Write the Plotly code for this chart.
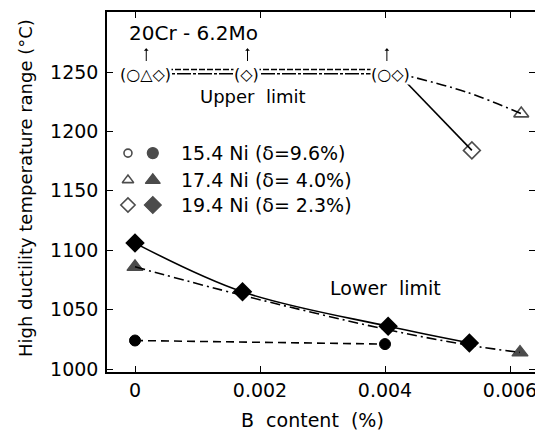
import plotly.graph_objects as go

# ---- data ----
# lower limit of the high-ductility range
ni154_lo_x = [0.0, 0.0040]
ni154_lo_y = [1024, 1021]
ni174_lo_x = [0.0, 0.00172, 0.00405, 0.00535, 0.00616]
ni174_lo_y = [1086, 1062, 1033, 1020, 1014]
ni194_lo_x = [0.0, 0.00172, 0.00405, 0.00535]
ni194_lo_y = [1106, 1065, 1036, 1022]

# upper limit (points in parentheses are beyond 1250)
up_dash_x = [0.0, 0.0042]
up_dash_y = [1252, 1252]
up_solid_x = [0.0, 0.0042]
up_solid_y = [1248.5, 1248.5]
ni174_up_x = [0.0042, 0.00531, 0.00618]
ni174_up_y = [1249, 1233, 1215]
ni194_up_x = [0.0042, 0.00539]
ni194_up_y = [1249, 1184]

group_labels = ["(○△◇)", "(◇)", "(○◇)"]
group_x = [0.00016, 0.00179, 0.00408]
group_y = [1248, 1248, 1248]
arrow_x = [0.00018, 0.0018, 0.00403]

legend_labels = ["15.4 Ni (δ=9.6%)", "17.4 Ni (δ= 4.0%)", "19.4 Ni (δ= 2.3%)"]
legend_open = ["circle-open", "triangle-up-open", "diamond-open"]
legend_filled = ["circle", "triangle-up", "diamond"]

xticks = [0, 0.002, 0.004, 0.006]
xticklabels = ["0", "0.002", "0.004", "0.006"]
yticks = [1000, 1050, 1100, 1150, 1200, 1250]

FONT = "DejaVu Sans"
BLACK = "black"

# page body has an 8px margin: figure is drawn from (8, 8) in the window
OFF = 8
W, H = 543 - OFF, 433 - OFF
L, T = 107 - OFF, 12 - OFF
R = W - (535 - OFF)
B = H - (372 - OFF)
pw, ph = W - L - R, H - T - B

fig = go.Figure()

dashdot = "10px,4px,2px,4px"

# upper horizontal double lines
fig.add_trace(go.Scatter(x=up_dash_x, y=up_dash_y, mode="lines",
                         line=dict(color=BLACK, width=1.5, dash="6px,2px")))
fig.add_trace(go.Scatter(x=up_solid_x, y=up_solid_y, mode="lines",
                         line=dict(color=BLACK, width=1.5, dash="14px,2px,3px,2px")))
# upper curves
fig.add_trace(go.Scatter(x=ni174_up_x, y=ni174_up_y, mode="lines+markers",
                         line=dict(color=BLACK, width=1.6, dash=dashdot, shape="spline"),
                         marker=dict(symbol="triangle-up-open", size=[0, 0, 13],
                                     color=BLACK, line=dict(width=1.6, color=BLACK))))
fig.add_trace(go.Scatter(x=ni194_up_x, y=ni194_up_y, mode="lines+markers",
                         line=dict(color=BLACK, width=1.6),
                         marker=dict(symbol="diamond-open", size=[0, 13],
                                     color=BLACK, line=dict(width=1.6, color=BLACK))))
# lower limits
fig.add_trace(go.Scatter(x=ni154_lo_x, y=ni154_lo_y, mode="lines+markers",
                         line=dict(color=BLACK, width=1.6, dash="8px,5px"),
                         marker=dict(symbol="circle", size=11, color=BLACK,
                                     line=dict(width=1, color=BLACK))))
fig.add_trace(go.Scatter(x=ni174_lo_x, y=ni174_lo_y, mode="lines+markers",
                         line=dict(color=BLACK, width=1.6, dash=dashdot, shape="spline"),
                         marker=dict(symbol="triangle-up", size=[14, 0, 0, 0, 14], color=BLACK,
                                     line=dict(width=1.2, color=BLACK))))
fig.add_trace(go.Scatter(x=ni194_lo_x, y=ni194_lo_y, mode="lines+markers",
                         line=dict(color=BLACK, width=1.6, shape="spline"),
                         marker=dict(symbol="diamond", size=15, color=BLACK)))

# legend keys on an overlay axis (0..1 over the plot area)
leg_y = [0.608, 0.533, 0.464]
fig.add_trace(go.Scatter(x=[0.049] * 3, y=leg_y, mode="markers", xaxis="x2", yaxis="y2",
                         marker=dict(symbol=legend_open, size=[8, 10, 11], color=BLACK,
                                     line=dict(width=1.6, color=BLACK))))
fig.add_trace(go.Scatter(x=[0.107] * 3, y=leg_y, mode="markers", xaxis="x2", yaxis="y2",
                         marker=dict(symbol=legend_filled, size=[11, 13, 13], color=BLACK,
                                     line=dict(width=1.2, color=BLACK))))

annotations = []
for lab, yy in zip(legend_labels, leg_y):
    annotations.append(dict(x=0.168, y=yy, xref="x2", yref="y2", text=lab, showarrow=False,
                            xanchor="left", yanchor="middle",
                            font=dict(family=FONT, size=19, color=BLACK)))
for lab, xx, yy in zip(group_labels, group_x, group_y):
    annotations.append(dict(x=xx, y=yy, xref="x", yref="y", text=lab, showarrow=False,
                            xanchor="center", yanchor="middle", bgcolor="white", borderpad=0,
                            font=dict(family=FONT, size=16, color=BLACK)))
for xx in arrow_x:
    annotations.append(dict(x=xx, y=1270, xref="x", yref="y", ax=xx, ay=1258,
                            axref="x", ayref="y", text="", showarrow=True,
                            arrowhead=1, arrowsize=0.8, arrowwidth=1, arrowcolor=BLACK))
annotations += [
    dict(x=0.00094, y=1283, xref="x", yref="y", text="20Cr - 6.2Mo", showarrow=False,
         font=dict(family=FONT, size=20, color=BLACK)),
    dict(x=0.00189, y=1229, xref="x", yref="y", text="Upper  limit", showarrow=False,
         font=dict(family=FONT, size=18, color=BLACK)),
    dict(x=0.0040, y=1068, xref="x", yref="y", text="Lower  limit", showarrow=False,
         font=dict(family=FONT, size=19, color=BLACK)),
]
# axis titles, placed by window pixel position
for text, px, py, ang, size in [
        ("High ductility temperature range (°C)", 25, 188, -90, 18),
        ("B  content  (%)", 312, 420, 0, 19)]:
    annotations.append(dict(x=(px - OFF - L) / pw, y=(H - B - (py - OFF)) / ph,
                            xref="paper", yref="paper", text=text, showarrow=False,
                            textangle=ang, xanchor="center", yanchor="middle",
                            font=dict(family=FONT, size=size, color=BLACK)))

axis_common = dict(showline=True, linecolor=BLACK, linewidth=1.5, mirror="allticks",
                   ticks="inside", ticklen=6, tickwidth=1.2, tickcolor=BLACK,
                   showgrid=False, zeroline=False,
                   tickfont=dict(family=FONT, size=19, color=BLACK))

fig.update_layout(
    width=W, height=H, margin=dict(l=L, r=R, t=T, b=B, autoexpand=False),
    paper_bgcolor="white", plot_bgcolor="white", showlegend=False,
    xaxis=dict(range=[-0.000448, 0.0064], tickvals=xticks, ticktext=xticklabels, **axis_common),
    yaxis=dict(range=[997.5, 1300.5], tickvals=yticks, ticklabelstandoff=3, **axis_common),
    xaxis2=dict(range=[0, 1], overlaying="x", visible=False),
    yaxis2=dict(range=[0, 1], overlaying="y", visible=False),
    annotations=annotations,
)

fig.write_html("out.html")
